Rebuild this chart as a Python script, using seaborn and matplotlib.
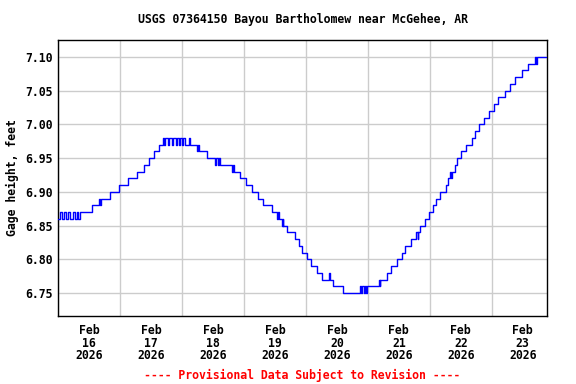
import pandas as pd
import matplotlib
matplotlib.use("Agg")
import matplotlib.pyplot as plt
import matplotlib.dates as mdates
from matplotlib.ticker import MultipleLocator, FormatStrFormatter, NullFormatter
import seaborn as sns

sns.set_style("white")
plt.rcParams['font.family'] = ['DejaVu Sans Mono', 'DejaVu Sans']

# hours after Feb 16 2026 00:00 at which the reading changes, and the new reading (ft)
change_hours = [0, 0.8, 1.5, 2.3, 3.0, 4.0, 4.6, 5.8, 6.4, 7.2, 7.9, 8.4,
                13.2, 16.0, 16.3, 16.6, 20.1, 23.6, 27.1, 30.6, 33.3, 35.2, 37.2, 39.1,
                40.6, 41.0, 41.6, 42.6, 43.0, 44.0, 44.4, 45.6, 46.0, 46.8, 47.2, 47.9,
                48.3, 49.2, 50.9, 51.3, 53.8, 54.1, 54.5, 57.7, 60.8, 61.3, 61.8, 62.3,
                62.8, 67.4, 67.8, 68.2, 70.5, 72.8, 75.1, 77.4, 79.4, 82.8, 84.8, 85.2,
                85.6, 86.7, 87.0, 87.3, 88.7, 91.8, 93.5, 94.5, 96.4, 97.9, 100.3, 102.2,
                105.0, 105.4, 106.5, 110.3, 117.0, 117.4, 117.9, 118.4, 119.0, 119.3, 119.8,
                124.3, 124.6, 124.9, 127.4, 128.9, 131.2, 133.2, 134.3, 136.7, 138.8, 139.3,
                139.6, 140.4, 142.1, 143.7, 145.1, 146.6, 147.9, 150.1, 151.1, 151.8, 152.3,
                152.7, 153.7, 154.6, 156.0, 158.2, 160.2, 161.4, 163.1, 165.0, 167.0, 168.8,
                170.5, 173.1, 175.0, 176.9, 179.9, 182.1, 184.7, 185.0, 185.5, 189.2]
stage_ft = [6.86, 6.87, 6.86, 6.87, 6.86, 6.87, 6.86, 6.87, 6.86, 6.87, 6.86, 6.87,
            6.88, 6.89, 6.88, 6.89, 6.90, 6.91, 6.92, 6.93, 6.94, 6.95, 6.96, 6.97,
            6.98, 6.97, 6.98, 6.97, 6.98, 6.97, 6.98, 6.97, 6.98, 6.97, 6.98, 6.97,
            6.98, 6.97, 6.98, 6.97, 6.96, 6.97, 6.96, 6.95, 6.94, 6.95, 6.94, 6.95,
            6.94, 6.93, 6.94, 6.93, 6.92, 6.91, 6.90, 6.89, 6.88, 6.87, 6.86, 6.87,
            6.86, 6.85, 6.86, 6.85, 6.84, 6.83, 6.82, 6.81, 6.80, 6.79, 6.78, 6.77,
            6.78, 6.77, 6.76, 6.75, 6.76, 6.75, 6.76, 6.75, 6.76, 6.75, 6.76,
            6.77, 6.76, 6.77, 6.78, 6.79, 6.80, 6.81, 6.82, 6.83, 6.84, 6.83,
            6.84, 6.85, 6.86, 6.87, 6.88, 6.89, 6.90, 6.91, 6.92, 6.93, 6.92,
            6.93, 6.94, 6.95, 6.96, 6.97, 6.98, 6.99, 7.00, 7.01, 7.02, 7.03,
            7.04, 7.05, 7.06, 7.07, 7.08, 7.09, 7.10, 7.09, 7.10, 7.10]

start = pd.Timestamp('2026-02-16')
df = pd.DataFrame({'time': start + pd.to_timedelta(change_hours, unit='h'),
                   'stage': stage_ft})

fig = plt.figure(figsize=(5.76, 3.84), dpi=100)
ax = fig.add_axes([58/576, 1 - 316/384, (547-58)/576, (316-40)/384])

sns.lineplot(data=df, x='time', y='stage', drawstyle='steps-post',
             color='#0000ff', linewidth=1.0, ax=ax, zorder=3)

ax.set_xlim(start, start + pd.Timedelta(hours=189.4))
ax.set_ylim(6.716, 7.125)

ax.xaxis.set_major_locator(mdates.DayLocator())
ax.xaxis.set_major_formatter(NullFormatter())
ax.xaxis.set_minor_locator(mdates.HourLocator(byhour=12))
ax.xaxis.set_minor_formatter(mdates.DateFormatter('%b\n%d\n%Y'))
ax.yaxis.set_major_locator(MultipleLocator(0.05))
ax.yaxis.set_major_formatter(FormatStrFormatter('%.2f'))

fs = 8.3
ax.tick_params(axis='both', which='both', length=0, labelsize=fs, labelcolor='black')
ax.tick_params(axis='x', which='minor', pad=6)
for lab in ax.get_xticklabels(minor=True) + ax.get_yticklabels():
    lab.set_fontweight('bold')
    lab.set_linespacing(0.95)

ax.grid(True, which='major', color='#cccccc', linewidth=1.0)
for s in ax.spines.values():
    s.set_color('black')
    s.set_linewidth(1.0)

ax.set_xlabel('')
ax.set_ylabel('Gage height, feet', fontsize=fs, fontweight='bold', labelpad=5, color='black')

fig.text(0.5 * (58 + 547) / 576, 1 - 19/384, 'USGS 07364150 Bayou Bartholomew near McGehee, AR',
         ha='center', va='center', fontsize=fs, fontweight='bold', color='black')
fig.text(0.5 * (58 + 547) / 576, 1 - 375/384, '---- Provisional Data Subject to Revision ----',
         ha='center', va='center', fontsize=fs, fontweight='bold', color='red')

fig.savefig('out.png', dpi=100)
